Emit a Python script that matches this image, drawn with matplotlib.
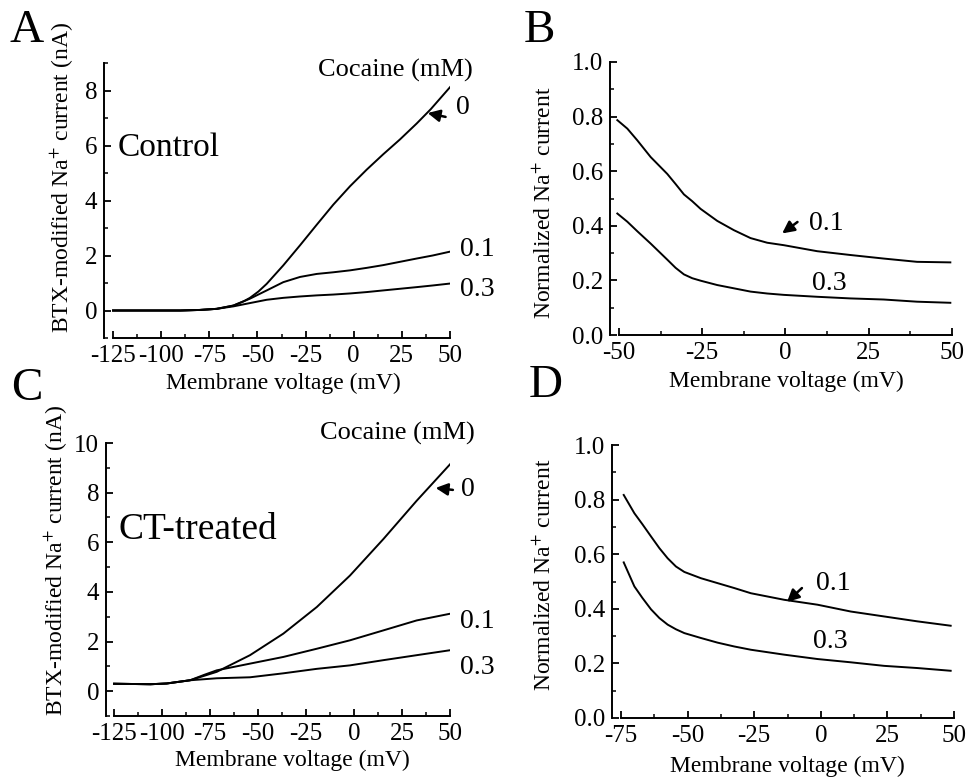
import matplotlib
matplotlib.use("Agg")
import matplotlib.pyplot as plt

plt.rcParams['font.family'] = ['Liberation Serif', 'DejaVu Serif']
plt.rcParams['mathtext.fontset'] = 'stix'
plt.rcParams['axes.unicode_minus'] = False

# Panel A: control I-V curves (cocaine 0, 0.1, 0.3 mM)
v_a0 = [-125, -100, -90, -80, -71.2, -62.5, -57, -53.9, -49.5, -45.2, -36.6, -27.9, -19.2, -10.6, -1.9,
        6.7, 15.3, 24, 32.7, 40, 50]
i_a0 = [0, 0, 0, 0.02, 0.06, 0.18, 0.34, 0.46, 0.69, 0.97, 1.64, 2.37, 3.12, 3.85, 4.52,
        5.12, 5.68, 6.22, 6.80, 7.32, 8.12]
v_a1 = [-125, -100, -90, -80, -71.2, -62.5, -53.9, -45.2, -36.6, -27.9, -19.2, -10.6, -1.9, 6.7,
        15.3, 24, 32.7, 41, 50]
i_a1 = [0, 0, 0, 0.02, 0.06, 0.18, 0.43, 0.73, 1.03, 1.22, 1.33, 1.39, 1.46, 1.55,
        1.65, 1.77, 1.89, 2.00, 2.14]
v_a3 = [-125, -100, -90, -80, -71.2, -62.5, -53.9, -45.2, -36.6, -27.9, -19.2, -10.6, -1.9, 6.7,
        15.3, 24, 32.7, 41, 50]
i_a3 = [0, 0, 0, 0.02, 0.06, 0.15, 0.27, 0.39, 0.46, 0.51, 0.55, 0.58, 0.62, 0.67,
        0.73, 0.79, 0.85, 0.91, 0.98]

# Panel B: normalized current, control
v_b = [-50.5, -47.5, -44.5, -40.5, -35.5, -33, -30.5, -28, -25.5, -20.5, -15.5, -10.5, -5.5, -0.5,
       9.5, 19.5, 29.5, 39.5, 49.5]
n_b1 = [0.787, 0.756, 0.713, 0.652, 0.59, 0.553, 0.515, 0.49, 0.462, 0.418, 0.384, 0.355, 0.338, 0.329,
        0.307, 0.293, 0.28, 0.268, 0.266]
n_b3 = [0.445, 0.415, 0.38, 0.335, 0.276, 0.246, 0.222, 0.208, 0.199, 0.183, 0.171, 0.159, 0.152, 0.147,
        0.14, 0.134, 0.13, 0.122, 0.118]

# Panel C: CT-treated I-V curves
v_c0 = [-125, -106, -97.6, -85.4, -71.5, -54.2, -36.8, -19.4, -2.1, 15.3, 32.6, 50]
i_c0 = [0.30, 0.28, 0.31, 0.44, 0.78, 1.45, 2.32, 3.39, 4.66, 6.13, 7.67, 9.14]
v_c1 = [-125, -106, -97.6, -85.4, -78, -71.5, -54.2, -36.8, -19.4, -2.1, 15.3, 32.6, 50]
i_c1 = [0.30, 0.28, 0.31, 0.44, 0.66, 0.84, 1.11, 1.38, 1.71, 2.05, 2.45, 2.85, 3.12]
v_c3 = [-125, -106, -97.6, -85.4, -71.5, -54.2, -36.8, -19.4, -2.1, 15.3, 32.6, 50]
i_c3 = [0.30, 0.28, 0.31, 0.44, 0.52, 0.56, 0.72, 0.90, 1.04, 1.25, 1.45, 1.65]

# Panel D: normalized current, CT-treated
v_d = [-74, -70, -67, -63.75, -60.6, -57.5, -54.4, -51.25, -45, -38.75, -32.5, -26.25, -13.75, -1.25,
       11.25, 23.75, 36.25, 48.75]
n_d1 = [0.817, 0.75, 0.71, 0.665, 0.622, 0.585, 0.555, 0.535, 0.512, 0.494, 0.476, 0.457, 0.433, 0.415,
        0.39, 0.372, 0.354, 0.338]
n_d3 = [0.57, 0.482, 0.44, 0.398, 0.366, 0.342, 0.325, 0.311, 0.293, 0.276, 0.262, 0.25, 0.232, 0.216,
        0.204, 0.191, 0.183, 0.173]

W, H = 968, 780
fig = plt.figure(figsize=(W / 100, H / 100), dpi=100)


def box(l, r, t, b):
    return [l / W, 1 - b / H, (r - l) / W, (b - t) / H]


def fx(x):
    return x / W


def fy(y):
    return 1 - y / H


def style(ax, xlim, ylim, xbounds, xmaj, xmin, ymaj, ymin):
    ax.set_xlim(*xlim)
    ax.set_ylim(*ylim)
    ax.spines['top'].set_visible(False)
    ax.spines['right'].set_visible(False)
    ax.spines['bottom'].set_bounds(*xbounds)
    ax.set_xticks(xmaj)
    ax.set_xticks(xmin, minor=True)
    ax.set_yticks(ymaj)
    ax.set_yticks(ymin, minor=True)
    ax.tick_params(which='major', direction='in', length=5, width=1.3, labelsize=18, pad=5)
    ax.tick_params(which='minor', direction='in', length=3, width=1.1)
    for s in ax.spines.values():
        s.set_linewidth(1.4)


lw = 1.4
arrow = dict(arrowstyle='-|>', color='black', lw=1.8, mutation_scale=18, shrinkA=0, shrinkB=0)

# ---- A ----
axA = fig.add_axes(box(104, 450, 63, 338))
for v, i in [(v_a0, i_a0), (v_a1, i_a1), (v_a3, i_a3)]:
    axA.plot(v, i, color='black', lw=lw)
style(axA, (-129.7, 50), (-1, 9), (-125, 50),
      [-125, -100, -75, -50, -25, 0, 25, 50], [-112.5, -87.5, -62.5, -37.5, -12.5, 12.5, 37.5],
      [0, 2, 4, 6, 8], [-1, 1, 3, 5, 7, 9])
axA.set_xlabel('Membrane voltage (mV)', fontsize=17)
axA.xaxis.set_label_coords(0.517, -0.125)
axA.set_ylabel('BTX-modified Na$^{+}$ current (nA)', fontsize=17)
axA.yaxis.set_label_coords(-0.08, 0.582)
axA.annotate('', xy=(38.4, 7.18), xytext=(47.7, 7.04), arrowprops=arrow)

# ---- B ----
axB = fig.add_axes(box(610, 952, 62, 335))
axB.plot(v_b, n_b1, color='black', lw=lw)
axB.plot(v_b, n_b3, color='black', lw=lw)
style(axB, (-52.7, 50), (0, 1.0), (-50, 50),
      [-50, -25, 0, 25, 50], [-37.5, -12.5, 12.5, 37.5],
      [0.0, 0.2, 0.4, 0.6, 0.8, 1.0], [0.1, 0.3, 0.5, 0.7, 0.9])
axB.set_yticklabels(['0.0', '0.2', '0.4', '0.6', '0.8', '1.0'])
axB.set_xlabel('Membrane voltage (mV)', fontsize=17)
axB.xaxis.set_label_coords(0.515, -0.13)
axB.set_ylabel('Normalized Na$^{+}$ current', fontsize=17)
axB.yaxis.set_label_coords(-0.16, 0.484)
axB.annotate('', xy=(-1, 0.372), xytext=(3.6, 0.414), arrowprops=arrow)

# ---- C ----
axC = fig.add_axes(box(106, 450, 443, 716))
for v, i in [(v_c0, i_c0), (v_c1, i_c1), (v_c3, i_c3)]:
    axC.plot(v, i, color='black', lw=lw)
style(axC, (-129.2, 50), (-1, 10), (-125, 50),
      [-125, -100, -75, -50, -25, 0, 25, 50], [-112.5, -87.5, -62.5, -37.5, -12.5, 12.5, 37.5],
      [0, 2, 4, 6, 8, 10], [-1, 1, 3, 5, 7, 9])
axC.set_xlabel('Membrane voltage (mV)', fontsize=17)
axC.xaxis.set_label_coords(0.541, -0.125)
axC.set_ylabel('BTX-modified Na$^{+}$ current (nA)', fontsize=17)
axC.yaxis.set_label_coords(-0.105, 0.571)
axC.annotate('', xy=(42.5, 8.19), xytext=(51.5, 8.11), arrowprops=arrow, annotation_clip=False)

# ---- D ----
axD = fig.add_axes(box(612, 954, 445, 718))
axD.plot(v_d, n_d1, color='black', lw=lw)
axD.plot(v_d, n_d3, color='black', lw=lw)
style(axD, (-78.4, 50), (0, 1.0), (-75, 50),
      [-75, -50, -25, 0, 25, 50], [-62.5, -37.5, -12.5, 12.5, 37.5],
      [0.0, 0.2, 0.4, 0.6, 0.8, 1.0], [0.1, 0.3, 0.5, 0.7, 0.9])
axD.set_yticklabels(['0.0', '0.2', '0.4', '0.6', '0.8', '1.0'])
axD.set_xlabel('Membrane voltage (mV)', fontsize=17)
axD.xaxis.set_label_coords(0.512, -0.14)
axD.set_ylabel('Normalized Na$^{+}$ current', fontsize=17)
axD.yaxis.set_label_coords(-0.164, 0.524)
axD.annotate('', xy=(-12.7, 0.425), xytext=(-7.1, 0.476), arrowprops=arrow)

# panel letters
for t, x, y in [('A', 27, 31), ('B', 539, 31), ('C', 27, 389), ('D', 546, 386)]:
    fig.text(fx(x), fy(y), t, fontsize=34, ha='center', va='center')

# annotations on the I-V panels
fig.text(fx(318), fy(70), 'Cocaine (mM)', fontsize=19, ha='left', va='center')
fig.text(fx(118), fy(148), 'Control', fontsize=24, ha='left', va='center')
fig.text(fx(463), fy(107), '0', fontsize=20, ha='center', va='center')
fig.text(fx(460), fy(250), '0.1', fontsize=20, ha='left', va='center')
fig.text(fx(460), fy(289), '0.3', fontsize=20, ha='left', va='center')

fig.text(fx(320), fy(433), 'Cocaine (mM)', fontsize=19, ha='left', va='center')
fig.text(fx(119), fy(530), 'CT-treated', fontsize=27, ha='left', va='center')
fig.text(fx(468), fy(489), '0', fontsize=20, ha='center', va='center')
fig.text(fx(460), fy(621), '0.1', fontsize=20, ha='left', va='center')
fig.text(fx(460), fy(668), '0.3', fontsize=20, ha='left', va='center')

# annotations on the normalized panels
fig.text(fx(826), fy(223), '0.1', fontsize=20, ha='center', va='center')
fig.text(fx(829), fy(283), '0.3', fontsize=20, ha='center', va='center')
fig.text(fx(833), fy(583), '0.1', fontsize=20, ha='center', va='center')
fig.text(fx(830), fy(642), '0.3', fontsize=20, ha='center', va='center')

fig.savefig('out.png', dpi=100)
